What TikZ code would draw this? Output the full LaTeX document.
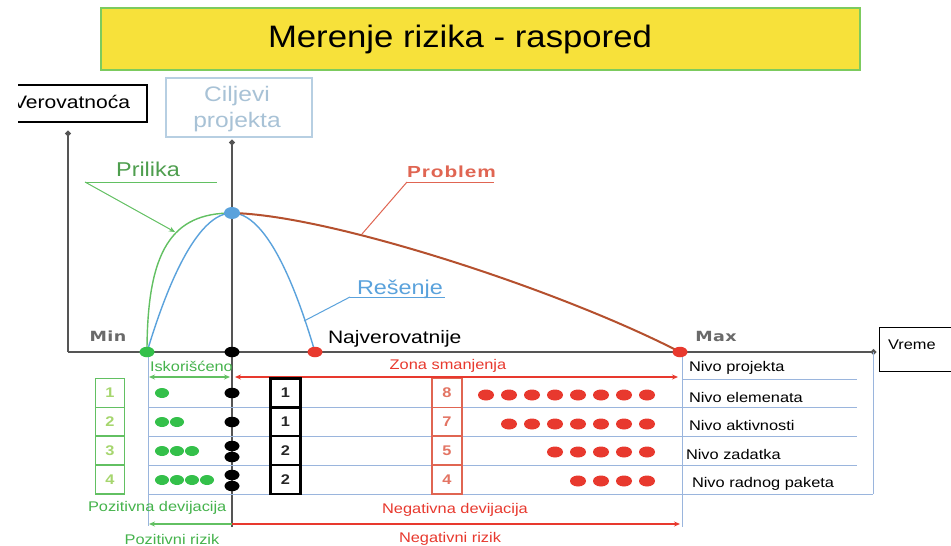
\documentclass[tikz,border=0pt]{standalone}
\usepackage{fontspec}
\setmainfont[FakeStretch=1.17]{Liberation Sans}
\newfontfamily\titlefont[FakeStretch=1.12]{Liberation Sans}
\newfontfamily\markfont[FakeStretch=1.25,LetterSpace=3]{DejaVu Sans}
\newfontfamily\probfont[FakeStretch=1.3,LetterSpace=6]{Liberation Sans}
\usetikzlibrary{arrows.meta,shapes.geometric}

\definecolor{titleyellow}{HTML}{F7E13A}
\definecolor{titlegreen}{HTML}{7CCB5E}
\definecolor{axisgrey}{HTML}{555555}
\definecolor{dotgreen}{HTML}{34C04A}
\definecolor{textgreen}{HTML}{45B34C}
\definecolor{darkgreen}{HTML}{4E9E4E}
\definecolor{linegreen}{HTML}{62C062}
\definecolor{numgreen}{HTML}{A6D66E}
\definecolor{riskred}{HTML}{E8392E}
\definecolor{coral}{HTML}{E06552}
\definecolor{probbrown}{HTML}{B5502E}
\definecolor{solblue}{HTML}{5AA2DC}
\definecolor{gridblue}{HTML}{9AB5DD}
\definecolor{goalblue}{HTML}{B7CFE2}
\definecolor{goaltext}{HTML}{A8C2D6}
\definecolor{mingrey}{HTML}{6A6A6A}

\newcommand\tsz[1]{\fontsize{#1}{#1}\selectfont}

\begin{document}
\begin{tikzpicture}[x=1pt,y=-1pt,
  every node/.style={inner sep=0pt,outer sep=0pt},
  axisline/.style={draw=axisgrey,line width=2.6pt},
  grid/.style={draw=gridblue,line width=1pt},
  curve/.style={line width=1.4pt},
  dotnode/.style={ellipse,fill=#1,minimum width=15,minimum height=10.5},
  cellbox/.style={draw=#1,minimum width=29,minimum height=28.7,line width=1.3pt},
  celltext/.style={font=\bfseries\tsz{14}},
  leveltext/.style={anchor=west,font=\tsz{14}},
  tip/.style={-{Stealth[length=6pt,width=5pt]}},
  dtip/.style={{Stealth[length=6pt,width=5pt]}-{Stealth[length=6pt,width=5pt]}}]

\useasboundingbox (0,0) rectangle (951,546);
\fill[white] (0,0) rectangle (951,546);

% title banner
\node[draw=titlegreen,fill=titleyellow,line width=1.2pt,minimum width=759,minimum height=62] (title) at (480.5,39) {};
\node[font=\titlefont\tsz{31}] (titletext) at (460,39) {Merenje rizika - raspored};

% axis captions
\begin{scope}
  \clip (18,0) rectangle (951,546);
  \node[draw=black,line width=1.2pt,minimum width=160,minimum height=37] (verov) at (67,103.5) {};
  \node[anchor=west,font=\tsz{18}] (verovtext) at (13,102) {Verovatnoća};
\end{scope}
\node[draw=goalblue,line width=1.2pt,minimum width=146,minimum height=59] (goal) at (239,107.5) {};
\node[font=\tsz{21},text=goaltext,align=center] (goaltext) at (237,109) {Ciljevi\\[5pt]projekta};
\node[draw=black,line width=1pt,minimum width=80,minimum height=44,anchor=north west] (vreme) at (879,327) {};
\node[leveltext] (vremetext) at (888,345) {Vreme};

% axes
\coordinate (O) at (68,352);
\coordinate (ytop) at (68,131);
\coordinate (xend) at (876,352);
\coordinate (ctop) at (232,140);
\coordinate (cbot) at (232,527);
\draw[axisline,-{Circle[length=5pt]}] (O) -- (ytop);
\draw[axisline,-{Circle[length=5pt]}] (O) -- (xend);
\draw[axisline,-{Circle[length=5pt]}] (cbot) -- (ctop);

\node[font=\markfont\bfseries\tsz{14},text=mingrey] (minlbl) at (108,336) {Min};
\node[font=\markfont\bfseries\tsz{14},text=mingrey] (maxlbl) at (716,336) {Max};

% table grid
\coordinate (gl) at (148,352);
\coordinate (gr) at (682,352);
\coordinate (rr) at (873,352);
\draw[grid] (gl) -- (148,526);
\draw[grid] (gr) -- (682,527);
\draw[grid] (rr) -- (873,494);
\draw[grid] (682,379) -- (857,379);
\foreach \yy in {407,436,465} \draw[grid] (148,\yy) -- (857,\yy);
\draw[grid] (148,494) -- (873,494);

% curves
\coordinate (peak) at (232,213);
\coordinate (gmin) at (147,352);
\coordinate (rmid) at (315,352);
\coordinate (rmax) at (680,352);
\draw[curve,draw=linegreen] (gmin) .. controls (147,250) and (172,213) .. (peak);
\draw[curve,draw=solblue] (gmin) parabola bend (peak) (rmid);
\draw[curve,draw=probbrown,line width=2pt] (peak) .. controls (330,215) and (560,290) .. (rmax);

% curve labels
\node[font=\tsz{20},text=darkgreen] (prilika) at (148,169) {Prilika};
\coordinate (pl) at (85,182);
\coordinate (pr) at (217,182);
\coordinate (pa) at (175,232);
\draw[draw=linegreen,line width=1pt] (pl) -- (pr);
\draw[draw=linegreen,line width=1pt,tip] (pl) -- (pa);

\node[anchor=west,font=\probfont\bfseries\tsz{16},text=coral] (problem) at (407,172) {Problem};
\coordinate (prl) at (407,182);
\coordinate (prr) at (494,182);
\coordinate (pra) at (362,234);
\draw[draw=coral,line width=1pt] (prl) -- (prr);
\draw[draw=coral,line width=1pt] (prl) -- (pra);

\node[anchor=west,font=\tsz{20},text=solblue] (resenje) at (357,289) {Rešenje};
\coordinate (rsl) at (350,297);
\coordinate (rsr) at (445,297);
\coordinate (rsa) at (304,321);
\draw[draw=solblue,line width=1pt] (rsl) -- (rsr);
\draw[draw=solblue,line width=1pt] (rsl) -- (rsa);

\node[anchor=west,font=\tsz{18}] (najv) at (328,339) {Najverovatnije};

% axis points
\node[dotnode=solblue,minimum width=16,minimum height=12] (peakdot) at (peak) {};
\node[dotnode=dotgreen] (gdot) at (gmin) {};
\node[dotnode=black] (kdot) at (232,352) {};
\node[dotnode=riskred] (rdot1) at (rmid) {};
\node[dotnode=riskred] (rdot2) at (rmax) {};

% ranges above the table
\node[anchor=west,font=\tsz{14},text=textgreen] (isk) at (150,366) {Iskorišćeno};
\node[font=\tsz{14},text=riskred] (zona) at (448,366) {Zona smanjenja};
\coordinate (ia) at (149,377);
\coordinate (ib) at (230,377);
\coordinate (za) at (235,377);
\coordinate (zb) at (678,377);
\draw[draw=linegreen,line width=1.2pt,dtip] (ia) -- (ib);
\draw[draw=riskred,line width=1.2pt,dtip] (za) -- (zb);

% level cells
\foreach \n/\yy/\g/\k/\r in {1/393/1/1/8, 2/421.5/2/1/7, 3/450.5/3/2/5, 4/479.5/4/2/4}{
  \node[cellbox=linegreen] (gc\n) at (110,\yy) {};
  \node[celltext,text=numgreen] (gt\n) at (110,\yy) {\g};
  \node[cellbox=black,line width=2.4pt,minimum width=30] (kc\n) at (285.5,\yy) {};
  \node[celltext,text=black!85] (kt\n) at (285.5,\yy) {\k};
  \node[cellbox=coral,minimum width=30] (rc\n) at (447,\yy) {};
  \node[celltext,text=coral!90] (rt\n) at (447,\yy) {\r};
}

% deviation dots
\foreach \row/\yy/\cnt in {1/393/1, 2/422/2, 3/451/3, 4/480/4}{
  \foreach \i in {1,...,\cnt}
    \node[dotnode=dotgreen,minimum width=14,minimum height=10] (gd\row\i) at ({147+15*\i},\yy) {};
}
\node[dotnode=black] (kd1) at (232,393) {};
\node[dotnode=black] (kd2) at (232,422) {};
\node[dotnode=black] (kd3a) at (232,446) {};
\node[dotnode=black] (kd3b) at (232,457) {};
\node[dotnode=black] (kd4a) at (232,475) {};
\node[dotnode=black] (kd4b) at (232,486) {};
\foreach \row/\yy/\cnt in {1/395/8, 2/424/7, 3/452/5, 4/481/4}{
  \foreach \i in {1,...,\cnt}
    \node[dotnode=riskred,minimum width=16,minimum height=11] (rd\row\i) at ({670-23*\i},\yy) {};
}

% level names
\node[leveltext] (lv1) at (689,368) {Nivo projekta};
\node[leveltext] (lv2) at (689,397) {Nivo elemenata};
\node[leveltext] (lv3) at (689,425) {Nivo aktivnosti};
\node[leveltext] (lv4) at (686,454) {Nivo zadatka};
\node[leveltext] (lv5) at (692,484) {Nivo radnog paketa};

% deviations and risks below the table
\node[anchor=west,font=\tsz{14},text=textgreen] (pozdev) at (88,508) {Pozitivna devijacija};
\node[font=\tsz{14},text=riskred] (negdev) at (455,510) {Negativna devijacija};
\coordinate (bm) at (232,524);
\coordinate (bl) at (149,524);
\coordinate (br) at (680,524);
\draw[draw=linegreen,line width=1.4pt,tip] (bm) -- (bl);
\draw[draw=riskred,line width=1.4pt,tip] (bm) -- (br);
\node[font=\tsz{14},text=textgreen] (pozriz) at (172,539) {Pozitivni rizik};
\node[font=\tsz{14},text=riskred] (negriz) at (450,539) {Negativni rizik};

\end{tikzpicture}
\end{document}
